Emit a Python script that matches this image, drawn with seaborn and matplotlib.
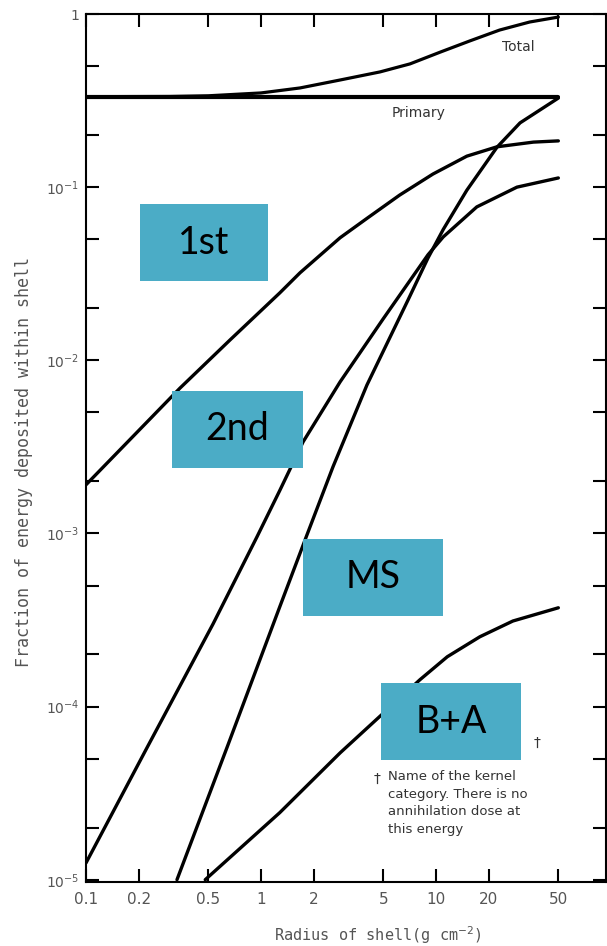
import numpy as np
import pandas as pd
import matplotlib
matplotlib.use("Agg")
import matplotlib.pyplot as plt
import seaborn as sns
from matplotlib.patches import Rectangle
from matplotlib.ticker import FixedLocator, NullLocator

# Energy deposited in spherical shells, by kernel category
total_r = [0.1, 0.3, 0.5, 1.0, 1.67, 2.84, 4.79, 7.1, 10.6, 15.6, 23.1, 34.3, 50]
total_f = [0.333, 0.334, 0.337, 0.35, 0.374, 0.416, 0.463, 0.515, 0.603, 0.699, 0.808, 0.899, 0.96]

primary_r = [0.1, 50]
primary_f = [0.332, 0.332]

first_r = [0.1, 0.344, 0.665, 1.28, 1.67, 2.83, 4.03, 6.2, 9.6, 15, 22.3, 36, 50]
first_f = [1.91e-3, 6.9e-3, 1.31e-2, 2.45e-2, 3.2e-2, 5.1e-2, 6.6e-2, 9.0e-2, 0.119, 0.151,
           0.171, 0.182, 0.185]

second_r = [0.1, 0.223, 0.532, 0.948, 1.28, 1.74, 2.83, 4.98, 9.0, 11.0, 17.1, 29.0, 50]
second_f = [1.25e-5, 5.78e-5, 3.0e-4, 9.55e-4, 1.77e-3, 3.38e-3, 7.5e-3, 1.73e-2, 4.07e-2,
            5.16e-2, 7.69e-2, 0.100, 0.113]

ms_r = [0.331, 0.64, 1.28, 1.83, 2.58, 4.03, 6.92, 9.0, 11.0, 15.0, 22.3, 30.2, 50]
ms_f = [1e-5, 5.82e-5, 3.77e-4, 9.8e-4, 2.43e-3, 7.2e-3, 2.23e-2, 3.9e-2, 5.7e-2, 9.6e-2,
        0.17, 0.235, 0.327]

ba_r = [0.48, 1.28, 2.83, 4.79, 8.1, 11.6, 17.8, 27.5, 50]
ba_f = [1e-5, 2.44e-5, 5.4e-5, 8.8e-5, 1.43e-4, 1.94e-4, 2.53e-4, 3.12e-4, 3.72e-4]

x_ticks = [0.1, 0.2, 0.5, 1, 2, 5, 10, 20, 50]
x_tick_labels = ["0.1", "0.2", "0.5", "1", "2", "5", "10", "20", "50"]
y_ticks = [1e-5, 1e-4, 1e-3, 1e-2, 1e-1, 1]
y_tick_labels = [r"$10^{-5}$", r"$10^{-4}$", r"$10^{-3}$", r"$10^{-2}$", r"$10^{-1}$", "1"]
y_minor = [m * 10.0 ** e for e in range(-5, 0) for m in (2, 5)]

category_labels = ["1st", "2nd", "MS", "B+A"]
footnote = "Name of the kernel\ncategory. There is no\nannihilation dose at\nthis energy"

sns.set_style("ticks")
plt.rcParams["font.family"] = ["DejaVu Sans"]

W, H = 607, 946
fig = plt.figure(figsize=(W / 100, H / 100), dpi=100)


def fx(px):
    return px / W


def fy(py):
    return 1 - py / H


ax = fig.add_axes([fx(86), fy(882), (606 - 86) / W, (882 - 14) / H])

series = [
    ("Total", total_r, total_f, 2.3),
    ("Primary", primary_r, primary_f, 3.0),
    ("1st", first_r, first_f, 2.4),
    ("2nd", second_r, second_f, 2.4),
    ("MS", ms_r, ms_f, 2.4),
    ("B+A", ba_r, ba_f, 2.4),
]
for name, r, f, lw in series:
    df = pd.DataFrame({"radius": r, "fraction": f})
    sns.lineplot(data=df, x="radius", y="fraction", ax=ax, color="black",
                 linewidth=lw, estimator=None, sort=False, legend=False,
                 solid_joinstyle="round", solid_capstyle="round")

ax.set_xscale("log")
ax.set_yscale("log")
ax.set_xlim(0.1, 93.6)
ax.set_ylim(9.7e-6, 1.0)
ax.set_xlabel("")
ax.set_ylabel("")

ax.xaxis.set_major_locator(FixedLocator(x_ticks))
ax.xaxis.set_minor_locator(NullLocator())
ax.set_xticklabels(x_tick_labels)
ax.yaxis.set_major_locator(FixedLocator(y_ticks))
ax.yaxis.set_minor_locator(FixedLocator(y_minor))
ax.set_yticklabels(y_tick_labels)

ax.tick_params(which="both", direction="in", top=True, right=True,
               length=9.5, width=1.5, color="black")
ax.tick_params(axis="x", labelsize=11, labelcolor="#555555", pad=7)
ax.tick_params(axis="y", labelsize=10, labelcolor="#555555", pad=5)
for s in ax.spines.values():
    s.set_linewidth(1.5)
    s.set_color("black")

fig.text(fx(378), fy(935), r"Radius of shell(g cm$^{-2}$)", ha="center", va="center",
         fontsize=11, family="DejaVu Sans Mono", color="#555555")
fig.text(fx(24), fy(462), "Fraction of energy deposited within shell", ha="center",
         va="center", rotation=90, fontsize=12, family="DejaVu Sans Mono", color="#555555")

fig.text(fx(518), fy(47), "Total", ha="center", va="center", fontsize=10, color="#333333")
fig.text(fx(419), fy(113), "Primary", ha="center", va="center", fontsize=10, color="#333333")
fig.text(fx(537), fy(743), "\u2020", ha="center", va="center", fontsize=10, color="#333333")
fig.text(fx(377), fy(779), "\u2020", ha="center", va="center", fontsize=10, color="#333333")
fig.text(fx(388), fy(770), footnote, ha="left", va="top", fontsize=9.5,
         color="#333333", linespacing=1.45)

boxes = [(140, 204, 268, 281), (172, 391, 303, 468), (303, 539, 443, 616), (381, 683, 521, 760)]
for label, (x0, y0, x1, y1) in zip(category_labels, boxes):
    fig.add_artist(Rectangle((fx(x0), fy(y1)), (x1 - x0) / W, (y1 - y0) / H,
                             transform=fig.transFigure, facecolor="#4BACC6",
                             edgecolor="none", zorder=10))
    fig.text(fx((x0 + x1) / 2), fy((y0 + y1) / 2), label, ha="center", va="center",
             fontsize=27, family="Lato", color="black", zorder=11)

fig.savefig("out.png", dpi=100)
